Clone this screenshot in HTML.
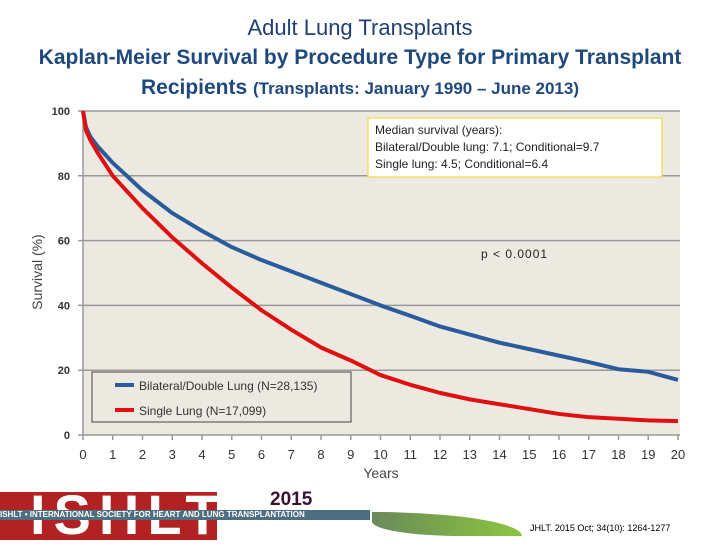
<!DOCTYPE html>
<html><head><meta charset="utf-8"><style>
body{margin:0;width:720px;height:540px;background:#fff;position:relative;overflow:hidden;font-family:"Liberation Sans",sans-serif}
.t{position:absolute;left:0;width:720px;text-align:center;color:#1f497d}
</style></head><body>
<div class="t" style="top:15px;font-size:22px;color:#1f3f75">Adult Lung Transplants</div>
<div class="t" style="top:46px;font-size:21px;font-weight:bold;color:#1f497d">Kaplan-Meier Survival by Procedure Type for Primary Transplant</div>
<div class="t" style="top:76px;font-size:21px;font-weight:bold;color:#1f497d">Recipients <span style="font-size:17px">(Transplants: January 1990 – June 2013)</span></div>
<svg id="c" width="720" height="540" style="position:absolute;left:0;top:0"></svg>
<div style="position:absolute;left:0;top:492px;width:217px;height:48px;background:#b22222"></div>
<div style="position:absolute;left:30px;top:482px;font-size:56px;font-weight:bold;color:#fff;letter-spacing:8px">ISHLT</div>
<div style="position:absolute;left:0;top:510px;width:370px;height:10px;background:#4d6d80;color:#fff;font-size:8px;line-height:10px;white-space:nowrap;font-weight:bold">ISHLT • INTERNATIONAL SOCIETY FOR HEART AND LUNG TRANSPLANTATION</div>
<div style="position:absolute;left:270px;top:489px;font-size:19px;font-weight:bold;color:#3a1030">2015</div>
<div style="position:absolute;left:372px;top:512px;width:150px;height:24px;background:linear-gradient(90deg,#6a8a5a,#8cc63f);border-radius:0 100% 0 60%"></div>
<div style="position:absolute;left:530px;top:523px;font-size:9px;color:#000">JHLT. 2015 Oct; 34(10): 1264-1277</div>
<script>
const years=[0,0.1,0.25,0.5,1,2,3,4,5,6,7,8,9,10,11,12,13,14,15,16,17,18,19,20];
const doubleLung=[100,95,92,89,84,75.5,68.5,63,58,54,50.5,47,43.5,40,36.8,33.5,31,28.5,26.5,24.5,22.5,20.3,19.5,17];
const singleLung=[100,94,91,87,80,70,61,53,45.5,38.5,32.5,27,23,18.5,15.5,13,11,9.5,8,6.5,5.5,5,4.5,4.3];
const yTicks=[0,20,40,60,80,100];
const xTicks=[0,1,2,3,4,5,6,7,8,9,10,11,12,13,14,15,16,17,18,19,20];
const X0=83,X1=678,Y0=435,Y1=111;
const sx=v=>X0+(X1-X0)*v/20, sy=v=>Y0-(Y0-Y1)*v/100;
const svg=document.getElementById('c'),NS='http://www.w3.org/2000/svg';
function mk(t,a,p){const e=document.createElementNS(NS,t);for(const k in a)e.setAttribute(k,a[k]);(p||svg).appendChild(e);return e;}
const bg=mk('rect',{x:X0,y:Y1,width:X1-X0+2,height:Y0-Y1,fill:'#ece9e1'});


yTicks.forEach(v=>{
 const g=mk('line',{x1:X0-5,x2:X1+2,y1:sy(v),y2:sy(v),stroke:'#999','stroke-width':1.5});
 
 
 const t=mk('text',{x:70,y:sy(v)+4,'text-anchor':'end','font-size':11,'font-weight':'bold',fill:'#333'});
 t.textContent=v;
 
 
});
mk('line',{x1:X0,x2:X0,y1:Y1,y2:Y0,stroke:'#999','stroke-width':1.5});
xTicks.forEach(v=>{
 mk('line',{x1:sx(v),x2:sx(v),y1:Y0,y2:Y0+5,stroke:'#999','stroke-width':1.5});
 const t=mk('text',{x:sx(v),y:459,'text-anchor':'middle','font-size':13,fill:'#333'});
 t.textContent=v;
 
 
});
const xt=mk('text',{x:381,y:478,'text-anchor':'middle','font-size':14,fill:'#444'});xt.textContent='Years';


const yt=mk('text',{x:0,y:0,'text-anchor':'middle','font-size':14,fill:'#444',transform:'translate(42,272) rotate(-90)'});yt.textContent='Survival (%)';


function line(vals,col,name){
 const p=mk('polyline',{points:years.map((y,i)=>sx(y)+','+sy(vals[i])).join(' '),fill:'none',stroke:col,'stroke-width':4,'stroke-linejoin':'round'});
 
 
}
line(doubleLung,'#2a5b9c','double-lung-line');
line(singleLung,'#e01010','single-lung-line');
const lg=mk('rect',{x:92,y:372,width:259,height:50,fill:'#ece9e1',stroke:'#444'});


[['#2a5b9c','Bilateral/Double Lung (N=28,135)',385],['#e01010','Single Lung (N=17,099)',410]].forEach(([c,s,y])=>{
 mk('line',{x1:115,x2:134,y1:y,y2:y,stroke:c,'stroke-width':4});
 const t=mk('text',{x:139,y:y+5,'font-size':12,fill:'#333'});t.textContent=s;
 
 
});
const ab=mk('rect',{x:368,y:118,width:294,height:59,fill:'#fff',stroke:'#f0e060','stroke-width':1.5});


['Median survival (years):','Bilateral/Double lung: 7.1; Conditional=9.7','Single lung: 4.5; Conditional=6.4'].forEach((s,i)=>{
 const t=mk('text',{x:375,y:134+i*17,'font-size':12,fill:'#222'});t.textContent=s;
});
const pv=mk('text',{x:481,y:258,'font-size':12,fill:'#222','letter-spacing':1});pv.textContent='p < 0.0001';


</script>
</body></html>
